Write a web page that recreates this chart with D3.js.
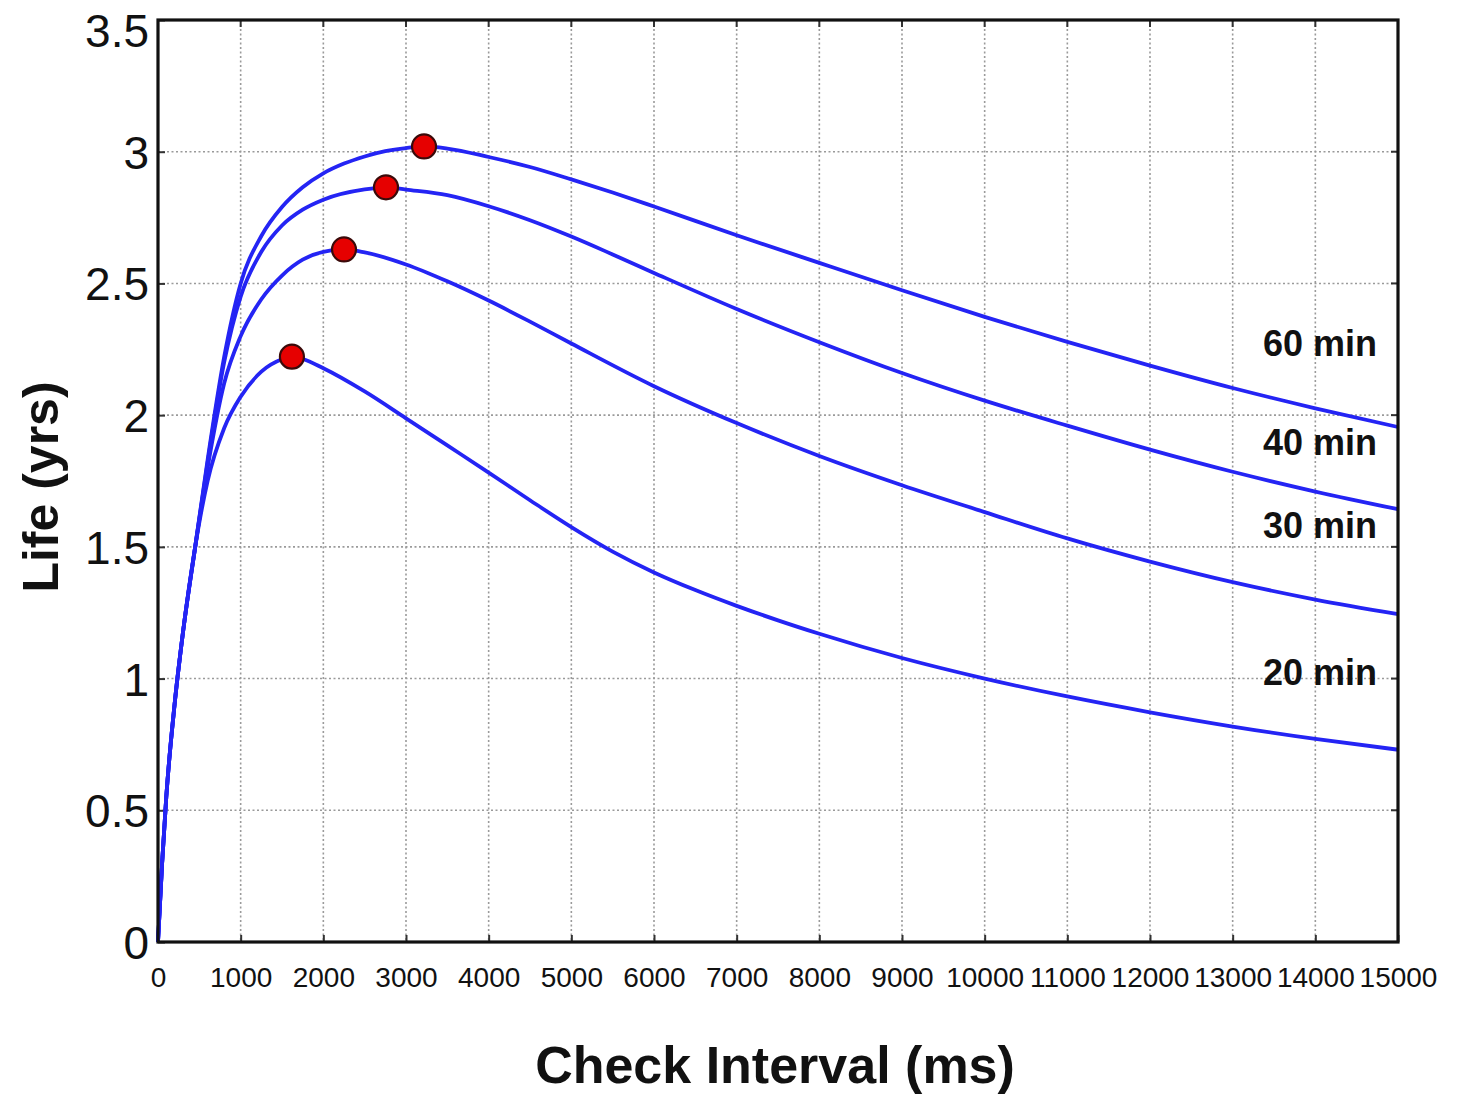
<!DOCTYPE html>
<html>
<head>
<meta charset="utf-8">
<script src="https://cdn.jsdelivr.net/npm/d3@7"></script>
<style>
  html, body { margin: 0; padding: 0; background: #fff; }
  svg { display: block; font-family: "Liberation Sans", Arial, sans-serif; }
</style>
</head>
<body>
<svg id="chart" width="1468" height="1097"></svg>
<script>
// Battery life versus check interval, one curve per reporting period.
const xTicks = [0, 1000, 2000, 3000, 4000, 5000, 6000, 7000, 8000, 9000, 10000, 11000, 12000, 13000, 14000, 15000];
const yTicks = [0, 0.5, 1, 1.5, 2, 2.5, 3, 3.5];

const seriesNames = ["20 min", "30 min", "40 min", "60 min"];

// [check interval (ms), life (yrs)]
const life20 = [[0,0],[50,0.3],[100,0.55],[200,0.9],[300,1.17],[450,1.5],[600,1.75],[800,1.95],[1000,2.07],[1250,2.165],[1500,2.212],[1620,2.222],[1750,2.213],[2000,2.178],[2500,2.09],[3000,1.988],[3500,1.885],[4000,1.782],[4500,1.677],[5000,1.575],[5500,1.482],[6000,1.403],[6500,1.336],[7000,1.276],[7500,1.221],[8000,1.17],[9000,1.078],[10000,1.0],[11000,0.932],[12000,0.872],[13000,0.818],[14000,0.771],[15000,0.73]];
const life30 = [[0,0],[50,0.3],[100,0.55],[200,0.9],[300,1.17],[450,1.5],[600,1.8],[800,2.12],[1000,2.3],[1250,2.44],[1500,2.53],[1750,2.59],[2000,2.62],[2250,2.629],[2500,2.618],[3000,2.572],[3500,2.508],[4000,2.435],[4500,2.355],[5000,2.272],[6000,2.11],[7000,1.97],[8000,1.845],[9000,1.734],[10000,1.632],[11000,1.532],[12000,1.444],[13000,1.366],[14000,1.3],[15000,1.245]];
const life40 = [[0,0],[50,0.3],[100,0.55],[200,0.9],[300,1.17],[450,1.5],[600,1.82],[800,2.2],[1000,2.45],[1250,2.62],[1500,2.72],[1750,2.78],[2000,2.818],[2500,2.857],[2758,2.865],[3000,2.856],[3500,2.835],[4000,2.793],[4500,2.74],[5000,2.678],[5500,2.61],[6000,2.54],[7000,2.403],[8000,2.277],[9000,2.16],[10000,2.055],[11000,1.96],[12000,1.869],[13000,1.785],[14000,1.71],[15000,1.643]];
const life60 = [[0,0],[50,0.3],[100,0.55],[200,0.9],[300,1.17],[450,1.5],[600,1.83],[800,2.22],[1000,2.5],[1250,2.68],[1500,2.79],[1750,2.865],[2000,2.918],[2250,2.955],[2500,2.982],[2750,3.002],[3000,3.014],[3218,3.02],[3500,3.012],[4000,2.98],[4500,2.942],[5000,2.895],[5500,2.845],[6000,2.792],[7000,2.683],[8000,2.578],[9000,2.474],[10000,2.373],[11000,2.278],[12000,2.188],[13000,2.103],[14000,2.026],[15000,1.955]];

// Optimal check interval for each curve
const optInterval = [1620, 2250, 2758, 3218];
const optLife = [2.222, 2.629, 2.865, 3.02];

// Curve label anchor heights (yrs)
const labelLife = [1.023, 1.583, 1.898, 2.275];

const W = 1468, H = 1097;
const margin = { top: 20, right: 70, bottom: 155, left: 158 };
const iw = W - margin.left - margin.right;
const ih = H - margin.top - margin.bottom;

const svg = d3.select("#chart");
const g = svg.append("g").attr("transform", `translate(${margin.left},${margin.top})`);

const x = d3.scaleLinear().domain([0, 15000]).range([0, iw]);
const y = d3.scaleLinear().domain([0, 3.5]).range([ih, 0]);

// Dotted grid
g.append("g").selectAll("line").data(xTicks.slice(1, -1)).join("line")
  .attr("x1", d => x(d)).attr("x2", d => x(d)).attr("y1", 0).attr("y2", ih)
  .attr("stroke", "#9a9a9a").attr("stroke-width", 1.6).attr("stroke-dasharray", "2,2.5");
g.append("g").selectAll("line").data(yTicks.slice(1, -1)).join("line")
  .attr("y1", d => y(d)).attr("y2", d => y(d)).attr("x1", 0).attr("x2", iw)
  .attr("stroke", "#9a9a9a").attr("stroke-width", 1.6).attr("stroke-dasharray", "2,2.5");

// Axes with inward ticks
const xAxis = d3.axisBottom(x).tickValues(xTicks).tickSizeInner(-7).tickSizeOuter(0).tickPadding(30).tickFormat(d3.format("d"));
const yAxis = d3.axisLeft(y).tickValues(yTicks).tickSizeInner(-7).tickSizeOuter(0).tickPadding(9).tickFormat(d => d);

const gx = g.append("g").attr("transform", `translate(0,${ih})`).call(xAxis);
gx.select(".domain").remove();
gx.selectAll("line").attr("stroke", "#333").attr("stroke-width", 2);
gx.selectAll("text").attr("font-size", 28).attr("fill", "#111").attr("dy", "0.55em");

const gy = g.append("g").call(yAxis);
gy.select(".domain").remove();
gy.selectAll("line").attr("stroke", "#333").attr("stroke-width", 2);
gy.selectAll("text").attr("font-size", 46).attr("fill", "#111")
  .attr("dy", d => d === 3.5 ? "0.58em" : "0.36em");

// Top and right ticks
g.append("g").selectAll("line").data(xTicks.slice(1, -1)).join("line")
  .attr("x1", d => x(d)).attr("x2", d => x(d)).attr("y1", 0).attr("y2", 7)
  .attr("stroke", "#333").attr("stroke-width", 2);
g.append("g").selectAll("line").data(yTicks.slice(1, -1)).join("line")
  .attr("y1", d => y(d)).attr("y2", d => y(d)).attr("x1", iw - 7).attr("x2", iw)
  .attr("stroke", "#333").attr("stroke-width", 2);

// Curves
const line = d3.line().x(d => x(d[0])).y(d => y(d[1])).curve(d3.curveMonotoneX);
const allSeries = [life20, life30, life40, life60];
g.append("g").selectAll("path").data(allSeries).join("path")
  .attr("d", line)
  .attr("fill", "none")
  .attr("stroke", "#2424f4")
  .attr("stroke-width", 3.8)
  .attr("stroke-linejoin", "round");

// Optimum markers
g.append("g").selectAll("circle").data(optInterval).join("circle")
  .attr("cx", d => x(d))
  .attr("cy", (d, i) => y(optLife[i]))
  .attr("r", 12)
  .attr("fill", "#e60000")
  .attr("stroke", "#3a0a0a")
  .attr("stroke-width", 2.2);

// Curve labels
g.append("g").selectAll("text").data(seriesNames).join("text")
  .attr("x", x(15000) - 21)
  .attr("y", (d, i) => y(labelLife[i]))
  .attr("dy", "0.36em")
  .attr("text-anchor", "end")
  .attr("font-size", 36)
  .attr("font-weight", "bold")
  .attr("fill", "#111")
  .text(d => d);

// Frame
g.append("rect").attr("x", 0).attr("y", 0).attr("width", iw).attr("height", ih)
  .attr("fill", "none").attr("stroke", "#111").attr("stroke-width", 3.2);

// Axis titles
svg.append("text")
  .attr("x", 775).attr("y", 1083)
  .attr("text-anchor", "middle")
  .attr("font-size", 52).attr("font-weight", "bold").attr("fill", "#111")
  .text("Check Interval (ms)");

svg.append("text")
  .attr("transform", "translate(58,487) rotate(-90)")
  .attr("text-anchor", "middle")
  .attr("font-size", 50).attr("font-weight", "bold").attr("fill", "#111")
  .text("Life (yrs)");
</script>
</body>
</html>
